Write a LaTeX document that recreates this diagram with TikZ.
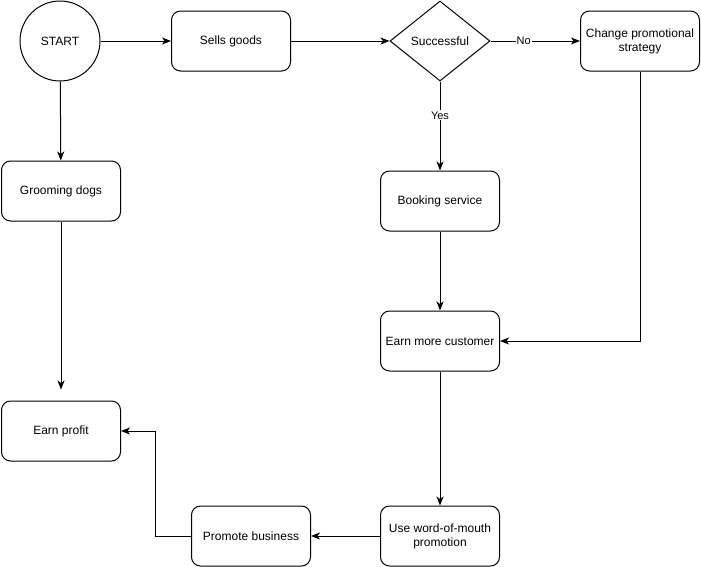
\documentclass[tikz,border=0pt]{standalone}
\usepackage{fontspec}
\setmainfont{Liberation Sans}
\usetikzlibrary{shapes.geometric,arrows.meta}
\begin{document}
\begin{tikzpicture}[x=1pt,y=-1pt,
  every node/.style={font=\fontsize{12}{14}\selectfont},
  box/.style={draw,line width=1pt,rounded corners=9pt,minimum width=119pt,minimum height=60pt,inner sep=0pt,align=center},
  arr/.style={draw,line width=1pt,-{Stealth[length=9pt,width=7pt,inset=2.5pt]}},
  lbl/.style={fill=white,inner sep=1pt,font=\fontsize{11}{13}\selectfont}]
\useasboundingbox (0,0) rectangle (701,566);
\node[draw,circle,line width=1pt,minimum size=80pt,inner sep=0pt] (start) at (60,41) {START};
\node[box] (sells) at (231,41) {Sells goods};
\node[draw,diamond,line width=1pt,aspect=1.25,minimum width=100pt,minimum height=80pt,inner sep=0pt] (succ) at (440,41) {Successful};
\node[box] (chg) at (640,41) {Change promotional\\strategy};
\node[box] (groom) at (61,191) {Grooming dogs};
\node[box] (book) at (440,201) {Booking service};
\node[box] (emc) at (440,341) {Earn more customer};
\node[box] (profit) at (61,431) {Earn profit};
\node[box] (promo) at (251,536) {Promote business};
\node[box] (wom) at (440,536) {Use word-of-mouth\\promotion};
\coordinate (bend) at (155,536);
\draw[arr] (start) -- (sells);
\draw[arr] (sells) -- (succ);
\draw[arr] (succ) -- node[lbl,pos=0.37] {No} (chg);
\draw[arr] (succ) -- node[lbl,pos=0.38] {Yes} (book);
\draw[arr] (start) -- (groom);
\draw[arr,shorten >=11pt] (groom) -- (profit);
\draw[arr] (book) -- (emc);
\draw[arr] (chg.south) |- (emc.east);
\draw[arr] (emc) -- (wom);
\draw[arr] (wom) -- (promo);
\draw[arr] (promo.west) -- (bend) |- (profit.east);
\end{tikzpicture}
\end{document}
